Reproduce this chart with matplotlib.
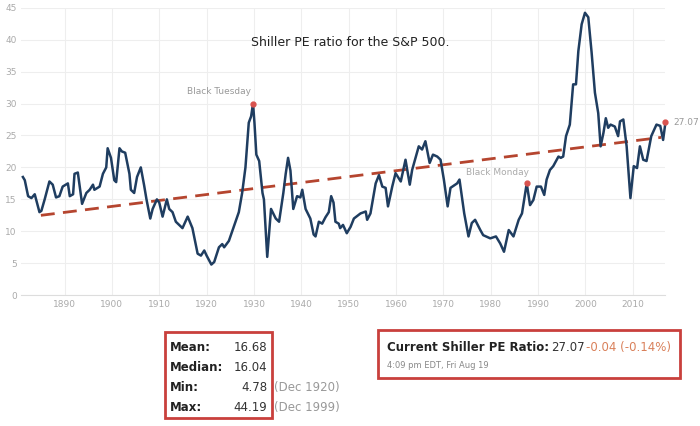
import matplotlib
matplotlib.use("Agg")
import matplotlib.pyplot as plt
from matplotlib.patches import Rectangle

years = [1881.2,1881.6,1882.3,1883.0,1883.7,1884.7,1885.1,1885.8,1886.8,1887.5,1888.2,1888.9,1889.6,1890.7,1891.1,1891.8,1892.1,1892.8,1893.7,1894.6,1895.3,1896.0,1896.3,1897.4,1898.1,1898.8,1899.1,1899.8,1900.5,1900.9,1901.6,1902.1,1902.8,1903.7,1904.0,1904.7,1905.3,1906.1,1906.8,1907.3,1908.1,1908.6,1909.5,1910.0,1910.7,1911.6,1912.1,1912.8,1913.5,1914.2,1914.9,1916.0,1917.0,1918.1,1918.8,1919.5,1920.0,1921.0,1921.6,1922.6,1923.3,1923.7,1924.7,1925.4,1926.1,1926.8,1927.5,1928.2,1928.9,1929.4,1929.8,1930.1,1930.5,1931.1,1931.8,1932.1,1932.8,1933.6,1934.6,1935.3,1936.2,1936.7,1937.2,1937.7,1938.3,1939.1,1939.8,1940.2,1940.9,1941.9,1942.6,1943.0,1943.7,1944.4,1945.1,1945.8,1946.3,1946.8,1947.2,1947.9,1948.2,1948.8,1949.6,
 1950.4,1951.1,1952.5,1953.6,1953.9,1954.6,1955.7,1956.4,1957.1,1957.8,1958.3,1959.2,1959.9,1961.0,1962.0,1962.9,1963.4,1964.8,1965.5,1966.2,1967.1,1967.8,1968.7,1969.4,1970.1,1970.9,1971.5,1972.9,1973.4,1974.4,1975.3,1976.0,1976.7,1977.8,1978.4,1979.9,1981.1,1982.0,1982.8,1983.8,1984.8,1985.9,1986.6,1987.6,1988.3,1989.0,1989.7,1990.6,1991.3,1991.8,1992.5,1993.2,1994.3,1994.8,1995.3,1995.9,1996.7,1997.4,1998.0,1998.5,1999.2,1999.9,2000.6,2001.3,2002.0,2002.7,2003.2,2003.8,2004.3,2004.8,2005.3,2006.2,2006.9,2007.3,2008.0,2008.7,2009.5,2010.2,2010.9,2011.5,2012.2,2012.9,2013.9,2015.0,2015.8,2016.4,2016.9]
pe = [18.5,18,15.5,15.2,15.8,13,13.2,15,17.8,17.3,15.3,15.5,17,17.5,15.5,15.8,19,19.2,14.3,16,16.5,17.3,16.5,17,19,20,23,21.5,18,17.7,23,22.5,22.3,19,16.5,16,18.5,20,17.2,15,12,13.5,15,14.5,12.3,15,13.5,13,11.5,11,10.5,12.3,10.5,6.5,6.2,7,6.2,4.8,5.2,7.5,8,7.5,8.5,10,11.5,13,16,20,27,28,30,27,22,21,16,15,6,13.5,12,11.5,16,19,21.5,19.5,13.5,15.5,15.3,16.5,13.5,12,9.5,9.2,11.5,11.2,12.2,13,15.5,14.5,11.5,11.2,10.5,11,9.7,
 10.7,12,12.8,13.1,11.8,12.8,17.5,18.8,17,16.8,13.9,17,19.1,17.8,21.2,17.3,19.6,23.3,22.8,24.1,20.7,22,21.7,21.2,18.1,13.9,16.8,17.5,18.1,12.8,9.2,11.3,11.8,10.2,9.4,8.9,9.2,8.1,6.8,10.2,9.2,11.8,12.8,17.5,14.1,14.9,17,17,15.7,18.1,19.6,20.2,21.7,21.5,21.7,24.9,26.7,33,33,38.2,42.4,44.2,43.5,38,31.7,28.5,23.3,25.4,27.7,26.2,26.7,26.4,24.9,27.2,27.5,23.3,15.2,20.2,19.9,23.3,21.2,21,24.9,26.7,26.5,24.3,27.07]
trend_x = [1885, 2016]
trend_y = [12.5, 24.7]
xticks = list(range(1890, 2011, 10))
yticks = list(range(0, 46, 5))

fig = plt.figure(figsize=(7, 4.26), dpi=100)
ax = fig.add_axes([0.03, 0.307, 0.92, 0.675])
ax.plot(trend_x, trend_y, color="#b5452f", lw=2, ls=(0, (5, 3)), zorder=2)
ax.plot(years, pe, color="#1f3d60", lw=1.8, zorder=3, clip_on=False)
ax.plot([1929.8], [30], "o", color="#d9534f", ms=3.5, zorder=4)
ax.plot([1987.6], [17.5], "o", color="#d9534f", ms=3.5, zorder=4)
ax.plot([years[-1]], [pe[-1]], "o", color="#d9534f", ms=3.5, zorder=4, clip_on=False)
ax.text(1929.3, 31.2, "Black Tuesday", color="#999999", fontsize=6.5, ha="right", va="bottom")
ax.text(1981.5, 19.2, "Black Monday", color="#aaaaaa", fontsize=6.5, ha="center", va="center")
ax.text(2018.6, 27.07, "27.07", color="#999999", fontsize=6.5, ha="left", va="center")
ax.set_xlim(1880.8, 2016.8)
ax.set_ylim(0, 45)
ax.set_xticks(xticks)
ax.set_yticks(yticks)
ax.grid(color="#eeeeee", lw=0.8)
ax.set_axisbelow(True)
for s in ["top", "right", "left"]:
    ax.spines[s].set_visible(False)
ax.spines["bottom"].set_color("#dddddd")
ax.tick_params(length=0, labelsize=6.5, colors="#aaaaaa")
ax.tick_params(axis="y", pad=3)

fig.text(0.5, 0.9, "Shiller PE ratio for the S&P 500.", fontsize=9, color="#222222", ha="center", va="center")

fig.patches.append(Rectangle((0.236, 0.019), 0.153, 0.202, transform=fig.transFigure, fill=False, ec="#c9403c", lw=2))
rows = [("Mean:", "16.68", ""), ("Median:", "16.04", ""), ("Min:", "4.78", "(Dec 1920)"), ("Max:", "44.19", "(Dec 1999)")]
for i, (a, b, c) in enumerate(rows):
    yy = 0.185 - i * 0.047
    fig.text(0.243, yy, a, fontsize=8.5, weight="bold", color="#222222", va="center")
    fig.text(0.382, yy, b, fontsize=8.5, color="#333333", va="center", ha="right")
    if c:
        fig.text(0.392, yy, c, fontsize=8.5, color="#999999", va="center")

fig.patches.append(Rectangle((0.54, 0.113), 0.431, 0.112, transform=fig.transFigure, fill=False, ec="#c9403c", lw=2))
fig.text(0.553, 0.185, "Current Shiller PE Ratio:", fontsize=8.5, weight="bold", color="#222222", va="center")
fig.text(0.787, 0.185, "27.07", fontsize=8.5, color="#333333", va="center")
fig.text(0.837, 0.185, "-0.04 (-0.14%)", fontsize=8.5, color="#d9805a", va="center")
fig.text(0.553, 0.143, "4:09 pm EDT, Fri Aug 19", fontsize=6, color="#888888", va="center")

fig.savefig("out.png", dpi=100, facecolor="white")
